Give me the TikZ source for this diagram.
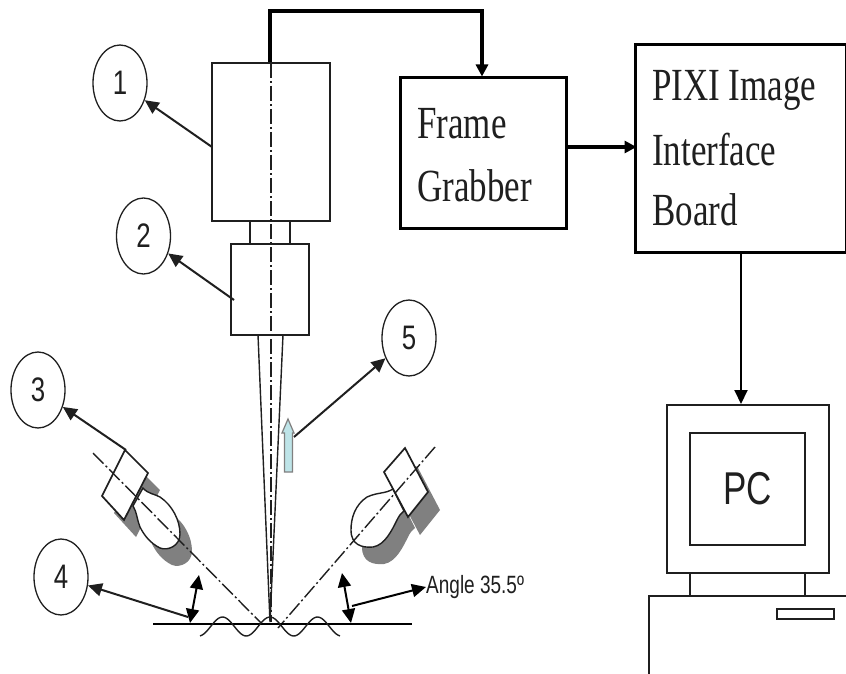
\documentclass[tikz,border=0pt]{standalone}
\usepackage{fontspec}
\setmainfont{Liberation Serif}
\setsansfont{Liberation Sans}
\newfontfamily\serifnarrow[FakeStretch=0.76]{Liberation Serif}
\newfontfamily\sansnarrow[FakeStretch=0.76]{Liberation Sans}
\usetikzlibrary{arrows.meta,shapes.geometric,calc}
\definecolor{inkc}{gray}{0.12}
\definecolor{shadowc}{gray}{0.5}
\definecolor{arrowfill}{RGB}{190,228,232}
\tikzset{
  part/.style={draw=inkc,line width=1.7pt,rectangle,inner sep=0pt,fill=white},
  blockbox/.style={draw=black,line width=3pt,rectangle,inner sep=0pt},
  tag/.style={draw=inkc,line width=1.3pt,ellipse,inner sep=0pt,minimum width=54pt,minimum height=76pt,font=\sansnarrow\fontsize{34}{34}\selectfont,text=inkc},
  pointer/.style={draw=inkc,line width=2pt,-{Triangle[length=14pt,width=13pt]}},
  twoway/.style={draw=black,line width=2pt,{Triangle[length=14pt,width=13pt]}-{Triangle[length=14pt,width=13pt]}},
  flow/.style={draw=black,line width=3.2pt,-{Triangle[length=12pt,width=12pt]}},
  axisline/.style={draw=inkc,line width=1.4pt,dash pattern=on 15pt off 3pt on 2pt off 3pt},
  thin part/.style={draw=inkc,line width=1.4pt},
  blocktext/.style={font=\serifnarrow\fontsize{46}{46}\selectfont,anchor=west,inner sep=0pt,text=inkc},
  lampbulbL/.pic={\path[pic actions] (143,488) .. controls (148,494) and (155,494) .. (160,497) .. controls (172,505) and (180,520) .. (180,534) .. controls (180,546) and (168,551) .. (160,548) .. controls (150,543) and (144,535) .. (140,527) .. controls (137,520) and (137,512) .. (133,506) -- cycle;},
  lampbulbR/.pic={\path[pic actions] (393,489) .. controls (385,494) and (378,492) .. (367,497) .. controls (355,505) and (351,518) .. (351,530) .. controls (351,545) and (362,548) .. (373,547) .. controls (385,545) and (392,530) .. (397,520) .. controls (399,516) and (401,513) .. (404,511) -- cycle;},
}
\begin{document}
\begin{tikzpicture}[x=1pt,y=-1pt]
\useasboundingbox (0,0) rectangle (846,674);
\fill[white] (0,0) rectangle (846,674);

% lamp shadows
\fill[shadowc] (137,467) -- (160,490) -- (136,537) -- (114,513) -- cycle;
\pic[fill=shadowc,xshift=12pt,yshift=-17pt] {lampbulbL};
\fill[shadowc] (417,466) -- (440,510) -- (420,535) -- (396,490) -- cycle;
\pic[fill=shadowc,xshift=11pt,yshift=-17pt] {lampbulbR};

% left lamp
\pic[draw=inkc,line width=1.4pt,fill=white] {lampbulbL};
\draw[part] (125,450) -- (148,473) -- (124,520) -- (102,496) -- cycle;
% right lamp
\pic[draw=inkc,line width=1.4pt,fill=white] {lampbulbR};
\draw[part] (405,448) -- (428,492) -- (408,517) -- (384,472) -- cycle;

% beam
\coordinate (focus) at (270,622);
% camera
\node[part,minimum width=118pt,minimum height=158pt] (cam) at (271,142) {};
\node[part,minimum width=40pt,minimum height=23pt] (neck) at (270,232.5) {};
\node[part,minimum width=78pt,minimum height=91pt] (lens) at (270,289.5) {};
\coordinate (beamL) at (258,335);
\coordinate (beamR) at (283,335);
\draw[thin part] (beamL) -- (focus) -- (beamR);
\draw[axisline] (271,63) -- (271,622);
\draw[axisline] (93,453) -- (262,624);
\draw[axisline] (435,447) -- (278,628);

% ground and surface
\draw[draw=black,line width=2pt] (153,624) -- (412,624);
\draw[thin part] plot[domain=200:340,samples=70,smooth] (\x,{626.5-9.5*cos((\x-270)/47.5*360)});

% labelled circles
\node[tag] (c1) at (120,83) {1};
\node[tag] (c2) at (143.5,236) {2};
\node[tag] (c3) at (38,390) {3};
\node[tag] (c4) at (61,577) {4};
\node[tag] (c5) at (409,338) {5};

% small arrow
\draw[draw=gray,line width=1.2pt,fill=arrowfill] (288,419) -- (294,433) -- (292.5,433) -- (292.5,472) -- (284.5,472) -- (284.5,433) -- (282,433) -- cycle;

% pointers
\coordinate (p1) at (212,147);
\coordinate (p2) at (234,300);
\coordinate (p3) at (126,450);
\coordinate (p4) at (188,617);
\coordinate (p5) at (294,437);
\draw[pointer] (p1) -- (c1);
\draw[pointer] (p2) -- (c2);
\draw[pointer] (p3) -- (c3);
\draw[pointer] (p4) -- (c4);
\draw[pointer] (p5) -- (c5);

% angle markers
\coordinate (ang1a) at (199,575);
\coordinate (ang1b) at (190,623);
\coordinate (ang2a) at (342,573);
\coordinate (ang2b) at (351,623);
\coordinate (ang2c) at (352,606);
\draw[twoway] (ang1a) -- (ang1b);
\draw[twoway] (ang2a) -- (ang2b);
\node[anchor=west,inner sep=0pt,text=inkc,font=\sansnarrow\fontsize{25}{25}\selectfont] (angle) at (426,587) {Angle 35.5º};
\draw[pointer,draw=black] (ang2c) -- (angle.west);

% blocks
\node[blockbox,minimum width=166pt,minimum height=150pt] (fg) at (483,153) {};
\node[blockbox,minimum width=211pt,minimum height=207pt] (pixi) at (740.5,148.5) {};
\node[blocktext] (fgt1) at (417,124) {Frame};
\node[blocktext] (fgt2) at (417,186) {Grabber};
\node[blocktext] (pt1) at (652,90) {PIXI Image};
\node[blocktext] (pt2) at (652,150) {Interface};
\node[blocktext] (pt3) at (652,210) {Board};

\coordinate (wire1) at (270,11);
\coordinate (wire2) at (482,11);
\draw[flow] (cam.north -| wire1) -- (wire1) -- (wire2) -- (fg.north -| wire2);
\draw[flow] (fg.east) ++(0,-6) -- ++(69,0);
\coordinate (pc top) at (741,404);
\draw[draw=black,line width=2pt,-{Triangle[length=14pt,width=13pt]}] (pixi.south -| pc top) -- (pc top);

% PC
\node[part,line width=1.5pt,minimum width=162pt,minimum height=168pt] (mon) at (748,489) {};
\node[part,line width=1.5pt,minimum width=115pt,minimum height=112pt,font=\sansnarrow\fontsize{46}{46}\selectfont,text=inkc] (screen) at (747.5,489) {\raisebox{-4pt}{PC}};
\coordinate (st1) at (690,596);
\coordinate (st2) at (805,596);
\draw[thin part] (mon.south -| st1) -- (st1);
\draw[thin part] (mon.south -| st2) -- (st2);
\draw[thin part] (846,596) -- (649,596) -- (649,674);
\node[part,line width=1.3pt,minimum width=57pt,minimum height=10pt] (slot) at (805.5,614) {};
\end{tikzpicture}
\end{document}
